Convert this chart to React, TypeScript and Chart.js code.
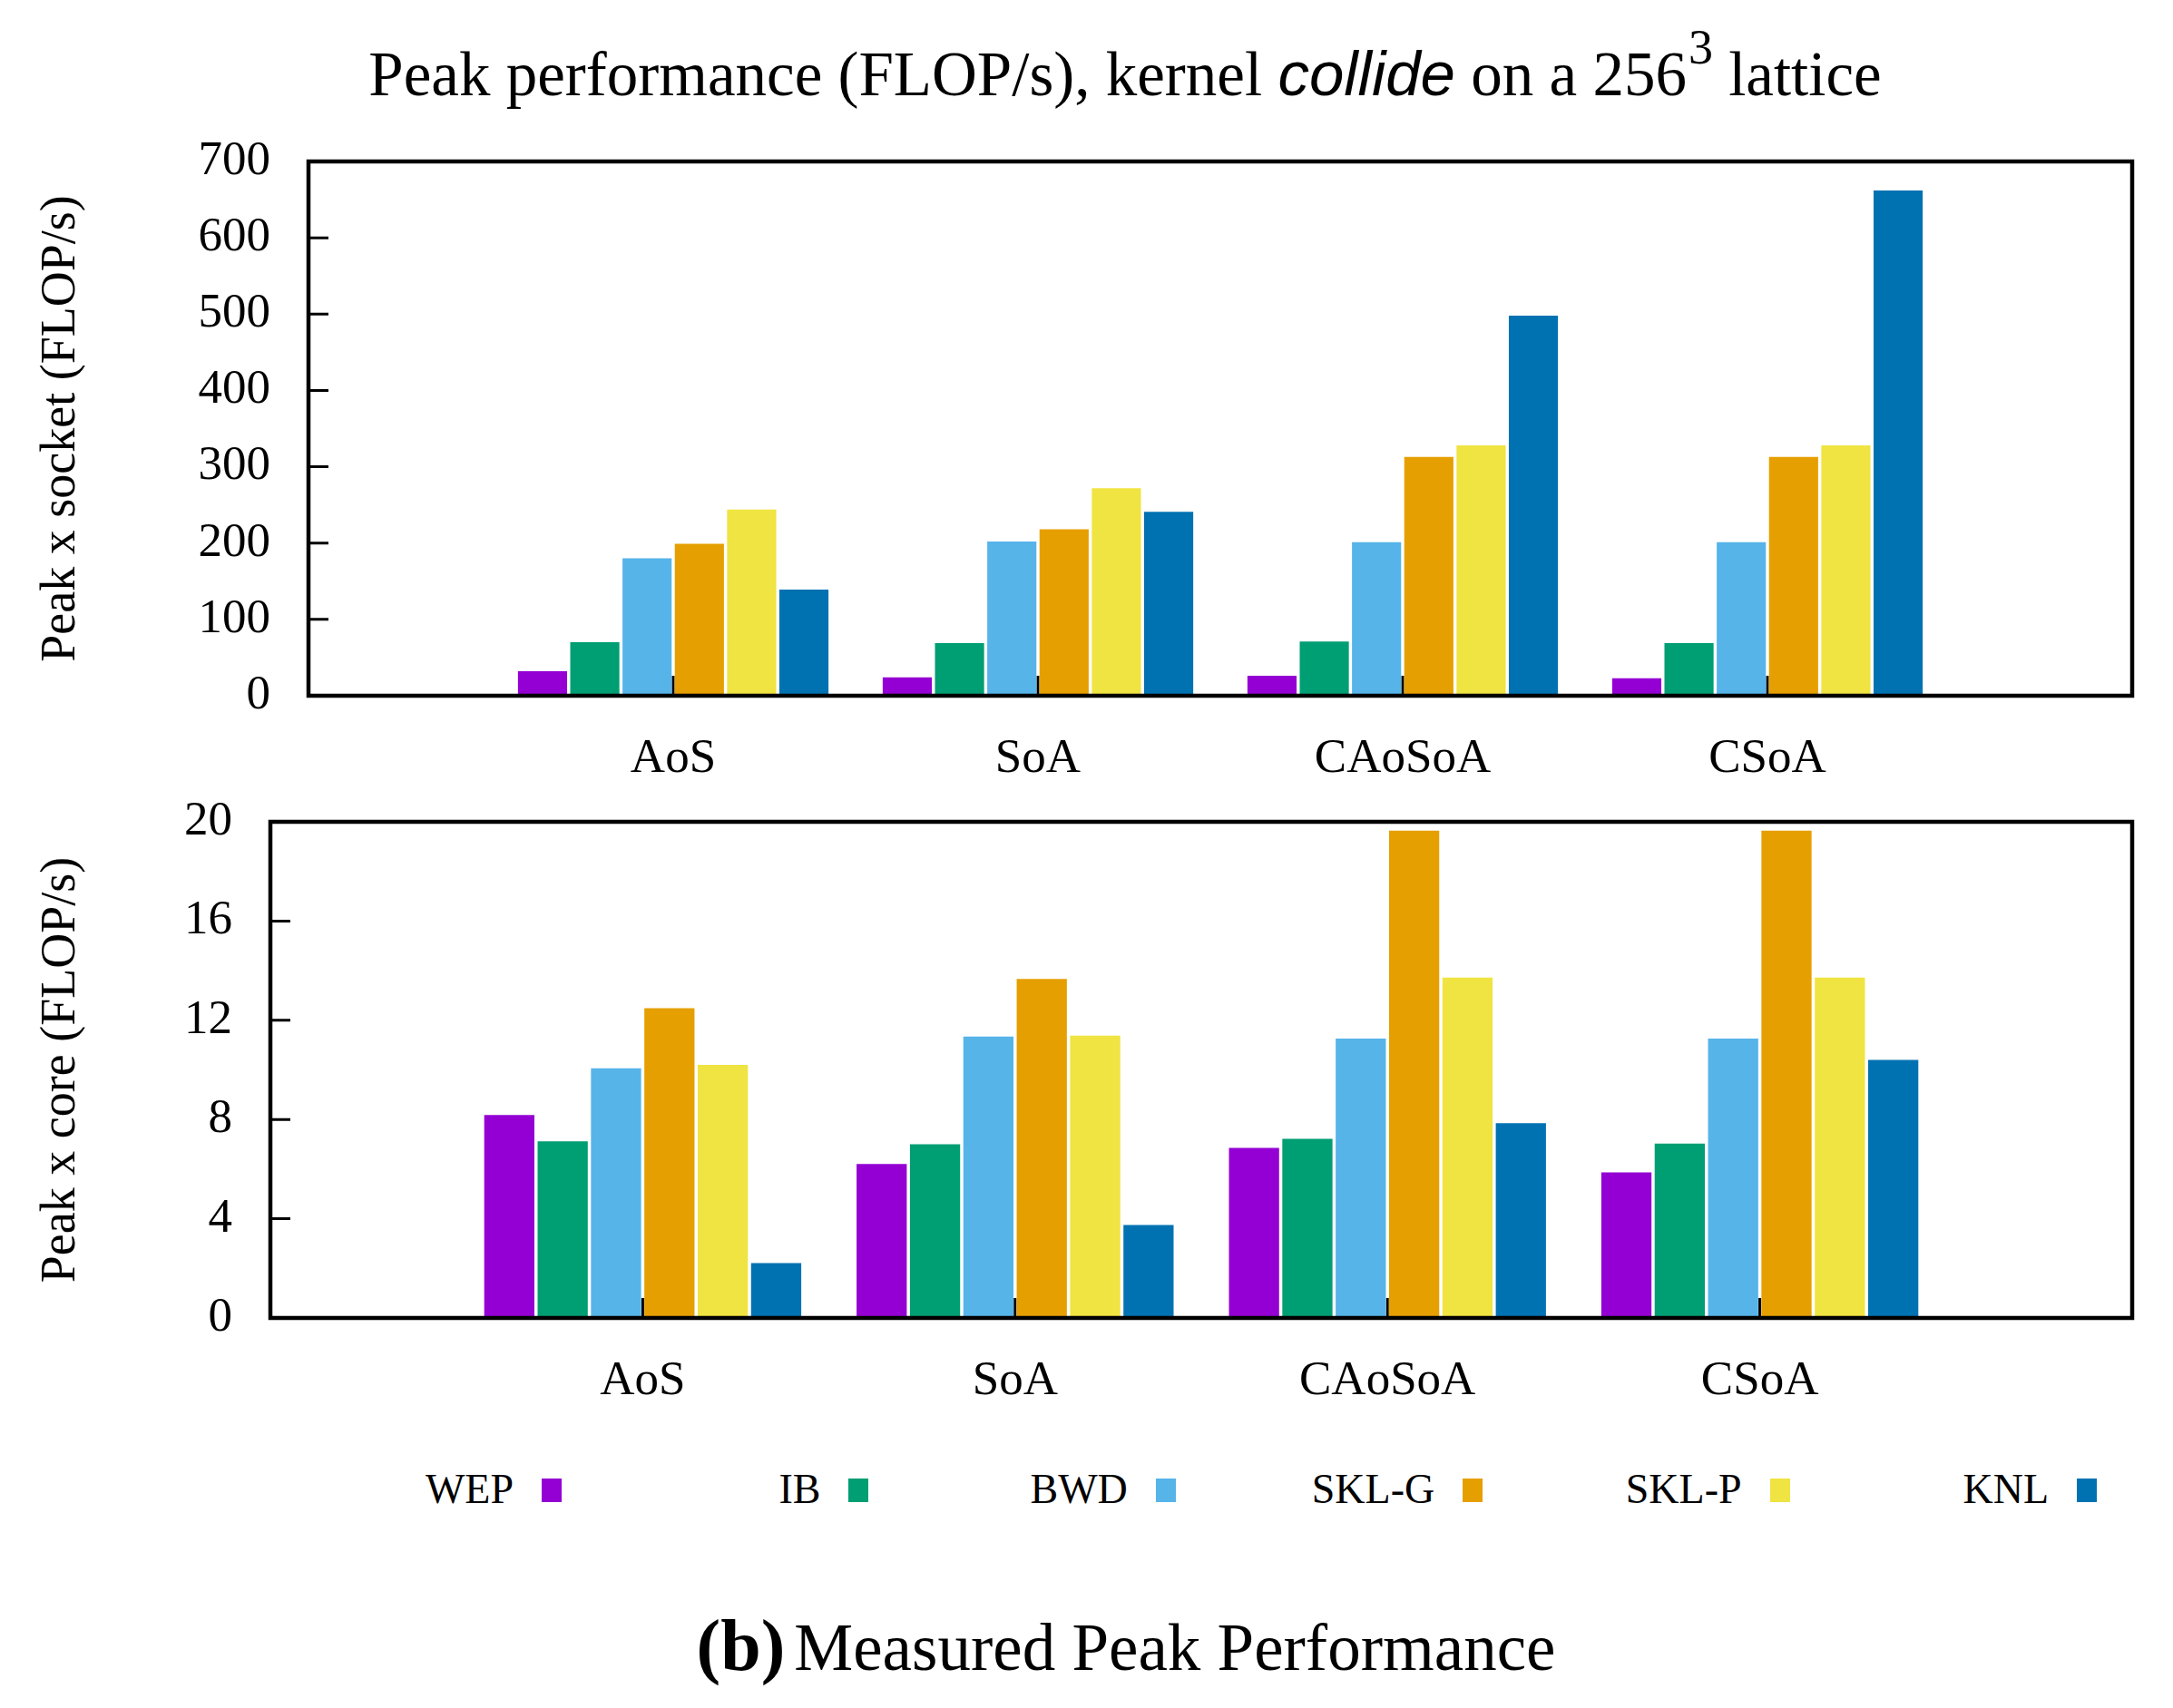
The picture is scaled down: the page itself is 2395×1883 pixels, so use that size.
import { useEffect, useRef } from 'react';
import { Chart, registerables } from 'chart.js';

Chart.register(...registerables);

const categories = ['AoS', 'SoA', 'CAoSoA', 'CSoA'];
const seriesNames = ['WEP', 'IB', 'BWD', 'SKL-G', 'SKL-P', 'KNL'];
const seriesColors = ['#9400D3', '#009E73', '#56B4E9', '#E69F00', '#F0E442', '#0072B2'];

// peak per socket, values for AoS, SoA, CAoSoA, CSoA
const socketWEP = [32, 24, 26, 23];
const socketIB = [70, 69, 71, 69];
const socketBWD = [180, 202, 201, 201];
const socketSKLG = [199, 218, 313, 313];
const socketSKLP = [244, 272, 328, 328];
const socketKNL = [139, 241, 498, 662];

// peak per core
const coreWEP = [8.18, 6.21, 6.86, 5.87];
const coreIB = [7.12, 7.0, 7.22, 7.03];
const coreBWD = [10.06, 11.34, 11.26, 11.26];
const coreSKLG = [12.49, 13.67, 19.64, 19.64];
const coreSKLP = [10.2, 11.38, 13.72, 13.72];
const coreKNL = [2.21, 3.75, 7.85, 10.4];

const socketMax = 700;
const socketStep = 100;
const coreMax = 20;
const coreStep = 4;

const SERIF = '"Liberation Serif", "Times New Roman", serif';

// empty slot on each side, like the gnuplot xrange
const xLabels = ['', ...categories, ''];
const pad = (vals: number[]) => [null, ...vals, null];

const frame = {
  id: 'frame',
  beforeDatasetsDraw(chart: any) {
    const { ctx, chartArea: a, scales } = chart;
    ctx.save();
    ctx.strokeStyle = '#000';
    ctx.lineWidth = 3;
    ctx.beginPath();
    scales.y.ticks.forEach((_t: any, i: number) => {
      const y = scales.y.getPixelForTick(i);
      ctx.moveTo(a.left, y);
      ctx.lineTo(a.left + 22, y);
    });
    scales.x.ticks.forEach((_t: any, i: number) => {
      const x = scales.x.getPixelForTick(i);
      ctx.moveTo(x, a.bottom);
      ctx.lineTo(x, a.bottom - 22);
    });
    ctx.stroke();
    ctx.restore();
  },
  afterDatasetsDraw(chart: any) {
    const { ctx, chartArea: a } = chart;
    ctx.save();
    ctx.strokeStyle = '#000';
    ctx.lineWidth = 4.5;
    ctx.strokeRect(a.left, a.top, a.right - a.left, a.bottom - a.top);
    ctx.restore();
  },
};

interface PanelProps {
  series: number[][];
  max: number;
  step: number;
  yTitle: string;
  yWidth: number;
  top: number;
  height: number;
  padTop: number;
}

const BarPanel = ({ series, max, step, yTitle, yWidth, top, height, padTop }: PanelProps) => {
  const canvasRef = useRef<HTMLCanvasElement | null>(null);
  const chartRef = useRef<Chart | null>(null);

  useEffect(() => {
    if (!canvasRef.current) return;
    chartRef.current?.destroy();

    chartRef.current = new Chart(canvasRef.current, {
      type: 'bar',
      data: {
        labels: xLabels,
        datasets: series.map((vals, i) => ({
          label: seriesNames[i],
          data: pad(vals),
          backgroundColor: seriesColors[i],
          borderWidth: 0,
          categoryPercentage: 0.86,
          barPercentage: 0.94,
        })),
      },
      options: {
        responsive: false,
        animation: false,
        layout: { padding: { top: padTop, right: 45, left: 0, bottom: 0 } },
        plugins: { legend: { display: false }, tooltip: { enabled: false } },
        scales: {
          x: {
            type: 'category',
            offset: false,
            grid: { display: false, drawTicks: false },
            border: { display: false },
            ticks: {
              autoSkip: false,
              maxRotation: 0,
              padding: 38,
              color: '#000',
              font: { family: SERIF, size: 53 },
            },
            afterFit: (s: any) => {
              s.height = 100;
              s.paddingLeft = 0;
              s.paddingRight = 0;
            },
          },
          y: {
            min: 0,
            max,
            grid: { display: false, drawTicks: false },
            border: { display: false },
            ticks: {
              stepSize: step,
              padding: 42,
              color: '#000',
              font: { family: SERIF, size: 53 },
            },
            title: {
              display: true,
              text: yTitle,
              color: '#000',
              font: { family: SERIF, size: 54 },
              padding: { top: 35, bottom: 0 },
            },
            afterFit: (s: any) => {
              s.width = yWidth;
              // the end labels may overhang the plot, as in the original
              s.paddingTop = 0;
              s.paddingBottom = 0;
            },
          },
        },
      },
      plugins: [frame],
    });

    return () => chartRef.current?.destroy();
  }, [series, max, step, yTitle, yWidth, padTop]);

  return (
    <canvas
      ref={canvasRef}
      width={2395}
      height={height}
      style={{ position: 'absolute', left: 0, top, width: 2395, height }}
    />
  );
};

const socketSeries = [socketWEP, socketIB, socketBWD, socketSKLG, socketSKLP, socketKNL];
const coreSeries = [coreWEP, coreIB, coreBWD, coreSKLG, coreSKLP, coreKNL];

const App = () => {
  return (
    <div
      style={{
        position: 'absolute',
        left: 0,
        top: 0,
        width: 2395,
        height: 1883,
        background: '#fff',
        fontFamily: SERIF,
        color: '#000',
        overflow: 'hidden',
      }}
    >
      <div
        style={{
          position: 'absolute',
          left: 1240,
          top: 47,
          transform: 'translateX(-50%)',
          fontSize: 69,
          lineHeight: '69px',
          whiteSpace: 'nowrap',
        }}
      >
        Peak performance (FLOP/s), kernel{' '}
        <span style={{ fontFamily: '"Liberation Sans", Arial, sans-serif', fontStyle: 'italic' }}>collide</span> on a
        256<sup style={{ fontSize: 54, verticalAlign: '35px', lineHeight: 0, marginLeft: 2 }}>3</sup> lattice
      </div>

      <BarPanel
        series={socketSeries}
        max={socketMax}
        step={socketStep}
        yTitle="Peak x socket (FLOP/s)"
        yWidth={340}
        top={130}
        height={737}
        padTop={48}
      />
      <BarPanel
        series={coreSeries}
        max={coreMax}
        step={coreStep}
        yTitle="Peak x core (FLOP/s)"
        yWidth={298}
        top={870}
        height={683}
        padTop={36}
      />

      {seriesNames.map((name, i) => {
        const swatchLeft = 597 + 338.4 * i;
        return (
          <div key={name}>
            <div
              style={{
                position: 'absolute',
                left: swatchLeft - 331,
                width: 300,
                top: 1619,
                fontSize: 46,
                lineHeight: '46px',
                textAlign: 'right',
                whiteSpace: 'nowrap',
              }}
            >
              {name}
            </div>
            <div
              style={{
                position: 'absolute',
                left: swatchLeft,
                top: 1630,
                width: 22,
                height: 26,
                background: seriesColors[i],
              }}
            />
          </div>
        );
      })}

      <div
        style={{
          position: 'absolute',
          left: 1241,
          top: 1778,
          transform: 'translateX(-50%)',
          fontSize: 73,
          lineHeight: '72px',
          whiteSpace: 'nowrap',
        }}
      >
        <b style={{ fontSize: 80, marginRight: 10 }}>(b)</b>Measured Peak Performance
      </div>
    </div>
  );
};

export default App;
